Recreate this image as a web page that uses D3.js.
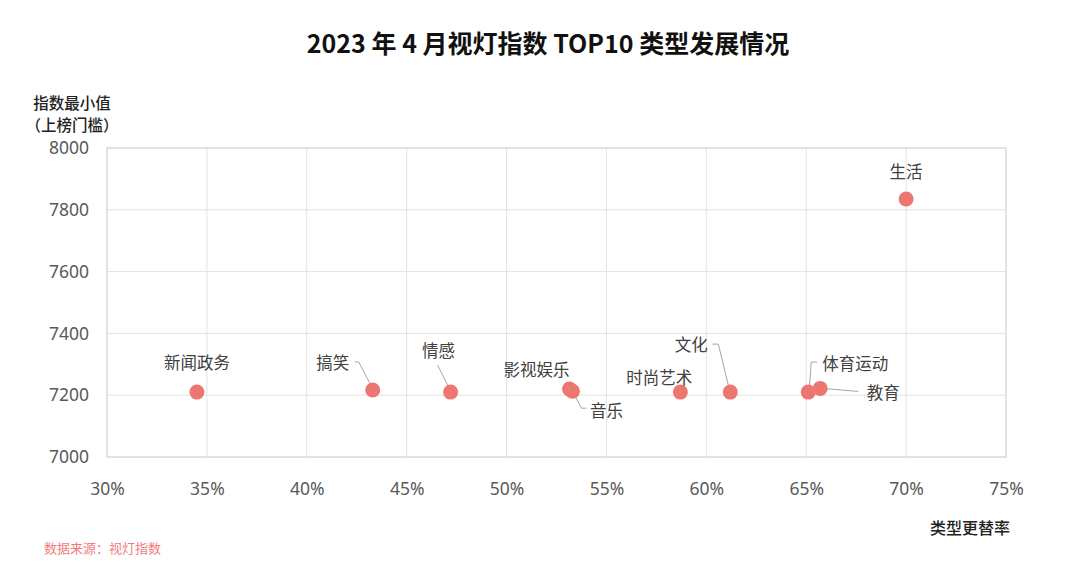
<!DOCTYPE html>
<html>
<head>
<meta charset="utf-8">
<script src="https://cdn.jsdelivr.net/npm/d3@7"></script>
<style>
  body { margin: 0; background: #fff; }
  svg text { font-family: "Noto Sans CJK SC", "Noto Sans", sans-serif; }
</style>
</head>
<body>
<div id="chart"></div>
<script>
// data
const categories = ["新闻政务", "搞笑", "情感", "影视娱乐", "音乐", "时尚艺术", "文化", "体育运动", "教育", "生活"];
const turnoverRate = [0.345, 0.433, 0.472, 0.5315, 0.533, 0.587, 0.612, 0.651, 0.657, 0.700];
const minIndex = [7210, 7217, 7210, 7220, 7213, 7210, 7210, 7210, 7222, 7835];
const xTicks = [0.30, 0.35, 0.40, 0.45, 0.50, 0.55, 0.60, 0.65, 0.70, 0.75];
const yTicks = [7000, 7200, 7400, 7600, 7800, 8000];

// label placement (offset from the dot, and optional leader line points)
const labelLayout = {
  "新闻政务": { dx: 0, dy: -30 },
  "搞笑": { dx: -40, dy: -28, line: [[-18, -28], [-14, -28], [-1, -3]] },
  "情感": { dx: -12, dy: -42, line: [[-13, -27], [-1, -3]] },
  "影视娱乐": { dx: -33, dy: -20 },
  "音乐": { dx: 34, dy: 19, line: [[1, 2], [9, 17], [14, 17]] },
  "时尚艺术": { dx: -21, dy: -15 },
  "文化": { dx: -39, dy: -48, line: [[-18, -48], [-12, -48], [-1, -3]] },
  "体育运动": { dx: 47, dy: -29, line: [[1, -2], [3, -30], [9, -30]] },
  "教育": { dx: 63, dy: 4, line: [[2, 0], [38, 3]] }
};

const W = 1080, H = 584;
const margin = { top: 148, right: 74, bottom: 127, left: 107 };
const width = W - margin.left - margin.right;
const height = H - margin.top - margin.bottom;

const svg = d3.select("#chart").append("svg")
  .attr("width", W).attr("height", H);

svg.append("text")
  .attr("x", 548).attr("y", 53)
  .attr("text-anchor", "middle")
  .style("font-size", "25px").style("font-weight", "bold").style("fill", "#111")
  .text("2023 年 4 月视灯指数 TOP10 类型发展情况");

const g = svg.append("g").attr("transform", `translate(${margin.left},${margin.top})`);

const x = d3.scaleLinear().domain([0.30, 0.75]).range([0, width]);
const y = d3.scaleLinear().domain([7000, 8000]).range([height, 0]);

// grid
g.append("g").selectAll("line").data(xTicks).join("line")
  .attr("x1", d => x(d)).attr("x2", d => x(d))
  .attr("y1", 0).attr("y2", height)
  .attr("stroke", "#e2e2e2");
g.append("g").selectAll("line").data(yTicks).join("line")
  .attr("x1", 0).attr("x2", width)
  .attr("y1", d => y(d)).attr("y2", d => y(d))
  .attr("stroke", "#e2e2e2");
g.append("rect").attr("width", width).attr("height", height)
  .attr("fill", "none").attr("stroke", "#d4d4d4");

// axes
const xAxis = g.append("g").attr("transform", `translate(0,${height})`)
  .call(d3.axisBottom(x).tickValues(xTicks).tickFormat(d3.format(".0%")).tickSize(0).tickPadding(26));
const yAxis = g.append("g")
  .call(d3.axisLeft(y).tickValues(yTicks).tickFormat(d => d).tickSize(0).tickPadding(18));
[xAxis, yAxis].forEach(a => {
  a.select(".domain").remove();
  a.selectAll("text").style("font-size", "17.5px").style("fill", "#595959")
    .style("font-family", "\"Noto Sans\", sans-serif");
});

// leader lines
const pts = categories.map((c, i) => ({ name: c, cx: x(turnoverRate[i]), cy: y(minIndex[i]) }));
g.append("g").selectAll("polyline").data(pts.filter(p => labelLayout[p.name] && labelLayout[p.name].line))
  .join("polyline")
  .attr("points", p => labelLayout[p.name].line.map(([a, b]) => `${p.cx + a},${p.cy + b}`).join(" "))
  .attr("fill", "none").attr("stroke", "#a6a6a6").attr("stroke-width", 1);

// dots
g.append("g").selectAll("circle").data(pts).join("circle")
  .attr("cx", p => p.cx).attr("cy", p => p.cy).attr("r", 7.5)
  .attr("fill", "#ee7671");

// labels
g.append("g").selectAll("text").data(pts).join("text")
  .attr("x", p => p.cx + (labelLayout[p.name] ? labelLayout[p.name].dx : 0))
  .attr("y", p => p.cy + (labelLayout[p.name] ? labelLayout[p.name].dy : -28))
  .attr("text-anchor", "middle").attr("dominant-baseline", "central")
  .style("font-size", "16.5px").style("fill", "#404040")
  .text(p => p.name);

// axis titles
svg.append("text").attr("x", 72).attr("y", 109).attr("text-anchor", "middle")
  .style("font-size", "15.5px").style("font-weight", "500").style("fill", "#222")
  .text("指数最小值");
svg.append("text").attr("x", 72).attr("y", 131).attr("text-anchor", "middle")
  .style("font-size", "15.5px").style("font-weight", "500").style("fill", "#222")
  .text("（上榜门槛）");
svg.append("text").attr("x", 1010).attr("y", 534).attr("text-anchor", "end")
  .style("font-size", "16px").style("font-weight", "500").style("fill", "#222")
  .text("类型更替率");

svg.append("text").attr("x", 44).attr("y", 553)
  .style("font-size", "13px").style("fill", "#f07d7d")
  .text("数据来源：视灯指数");
</script>
</body>
</html>
